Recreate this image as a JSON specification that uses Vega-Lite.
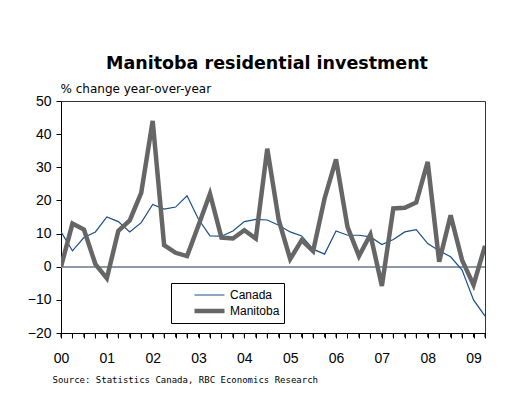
{
  "$schema": "https://vega.github.io/schema/vega-lite/v6.json",
  "autosize": "none",
  "width": 424,
  "height": 232,
  "padding": {"left": 61, "top": 101, "right": 42, "bottom": 76},
  "background": "white",
  "title": {
    "text": "Manitoba residential investment",
    "font": "DejaVu Sans",
    "fontSize": 17.5,
    "fontWeight": "bold",
    "color": "#000",
    "anchor": "middle",
    "dx": -6,
    "offset": 10
  },
  "config": {
    "view": {"stroke": "#333", "strokeWidth": 1},
    "axis": {"labelFont": "Liberation Sans", "titleFont": "Liberation Sans", "domainColor": "#000", "ticks": true, "tickColor": "#000", "tickOpacity": 1, "tickWidth": 1, "labelColor": "#000", "titleColor": "#000", "grid": false},
    "axisX": {"tickCount": 100}
  },
  "data": {
    "values": [
      {"period": 2000.00, "series": "Canada", "value": 10.5},
      {"period": 2000.25, "series": "Canada", "value": 4.8},
      {"period": 2000.50, "series": "Canada", "value": 8.8},
      {"period": 2000.75, "series": "Canada", "value": 10.5},
      {"period": 2001.00, "series": "Canada", "value": 15.0},
      {"period": 2001.25, "series": "Canada", "value": 13.6},
      {"period": 2001.50, "series": "Canada", "value": 10.5},
      {"period": 2001.75, "series": "Canada", "value": 13.3},
      {"period": 2002.00, "series": "Canada", "value": 18.8},
      {"period": 2002.25, "series": "Canada", "value": 17.4},
      {"period": 2002.50, "series": "Canada", "value": 18.0},
      {"period": 2002.75, "series": "Canada", "value": 21.4},
      {"period": 2003.00, "series": "Canada", "value": 14.3},
      {"period": 2003.25, "series": "Canada", "value": 9.3},
      {"period": 2003.50, "series": "Canada", "value": 9.2},
      {"period": 2003.75, "series": "Canada", "value": 10.8},
      {"period": 2004.00, "series": "Canada", "value": 13.6},
      {"period": 2004.25, "series": "Canada", "value": 14.3},
      {"period": 2004.50, "series": "Canada", "value": 14.1},
      {"period": 2004.75, "series": "Canada", "value": 12.5},
      {"period": 2005.00, "series": "Canada", "value": 10.5},
      {"period": 2005.25, "series": "Canada", "value": 9.3},
      {"period": 2005.50, "series": "Canada", "value": 5.3},
      {"period": 2005.75, "series": "Canada", "value": 3.8},
      {"period": 2006.00, "series": "Canada", "value": 10.8},
      {"period": 2006.25, "series": "Canada", "value": 9.5},
      {"period": 2006.50, "series": "Canada", "value": 9.5},
      {"period": 2006.75, "series": "Canada", "value": 9.0},
      {"period": 2007.00, "series": "Canada", "value": 6.7},
      {"period": 2007.25, "series": "Canada", "value": 8.2},
      {"period": 2007.50, "series": "Canada", "value": 10.5},
      {"period": 2007.75, "series": "Canada", "value": 11.2},
      {"period": 2008.00, "series": "Canada", "value": 7.0},
      {"period": 2008.25, "series": "Canada", "value": 4.8},
      {"period": 2008.50, "series": "Canada", "value": 3.0},
      {"period": 2008.75, "series": "Canada", "value": -1.0},
      {"period": 2009.00, "series": "Canada", "value": -10.0},
      {"period": 2009.25, "series": "Canada", "value": -14.9},
      {"period": 2000.00, "series": "Manitoba", "value": 0.0},
      {"period": 2000.25, "series": "Manitoba", "value": 13.0},
      {"period": 2000.50, "series": "Manitoba", "value": 11.2},
      {"period": 2000.75, "series": "Manitoba", "value": 0.8},
      {"period": 2001.00, "series": "Manitoba", "value": -3.5},
      {"period": 2001.25, "series": "Manitoba", "value": 10.8},
      {"period": 2001.50, "series": "Manitoba", "value": 14.0},
      {"period": 2001.75, "series": "Manitoba", "value": 22.3},
      {"period": 2002.00, "series": "Manitoba", "value": 44.0},
      {"period": 2002.25, "series": "Manitoba", "value": 6.5},
      {"period": 2002.50, "series": "Manitoba", "value": 4.2},
      {"period": 2002.75, "series": "Manitoba", "value": 3.2},
      {"period": 2003.00, "series": "Manitoba", "value": 12.5},
      {"period": 2003.25, "series": "Manitoba", "value": 22.0},
      {"period": 2003.50, "series": "Manitoba", "value": 8.8},
      {"period": 2003.75, "series": "Manitoba", "value": 8.5},
      {"period": 2004.00, "series": "Manitoba", "value": 11.0},
      {"period": 2004.25, "series": "Manitoba", "value": 8.5},
      {"period": 2004.50, "series": "Manitoba", "value": 35.6},
      {"period": 2004.75, "series": "Manitoba", "value": 14.1},
      {"period": 2005.00, "series": "Manitoba", "value": 2.3},
      {"period": 2005.25, "series": "Manitoba", "value": 8.0},
      {"period": 2005.50, "series": "Manitoba", "value": 4.7},
      {"period": 2005.75, "series": "Manitoba", "value": 20.6},
      {"period": 2006.00, "series": "Manitoba", "value": 32.4},
      {"period": 2006.25, "series": "Manitoba", "value": 12.0},
      {"period": 2006.50, "series": "Manitoba", "value": 3.2},
      {"period": 2006.75, "series": "Manitoba", "value": 9.7},
      {"period": 2007.00, "series": "Manitoba", "value": -5.8},
      {"period": 2007.25, "series": "Manitoba", "value": 17.6},
      {"period": 2007.50, "series": "Manitoba", "value": 17.8},
      {"period": 2007.75, "series": "Manitoba", "value": 19.4},
      {"period": 2008.00, "series": "Manitoba", "value": 31.6},
      {"period": 2008.25, "series": "Manitoba", "value": 1.5},
      {"period": 2008.50, "series": "Manitoba", "value": 15.5},
      {"period": 2008.75, "series": "Manitoba", "value": 2.0},
      {"period": 2009.00, "series": "Manitoba", "value": -5.5},
      {"period": 2009.25, "series": "Manitoba", "value": 6.3}
    ]
  },
  "encoding": {
    "x": {
      "field": "period",
      "type": "quantitative",
      "scale": {"domain": [2000, 2009.25], "nice": false, "zero": false},
      "axis": {
        "values": [2000, 2000.25, 2000.5, 2000.75, 2001, 2001.25, 2001.5, 2001.75, 2002, 2002.25, 2002.5, 2002.75, 2003, 2003.25, 2003.5, 2003.75, 2004, 2004.25, 2004.5, 2004.75, 2005, 2005.25, 2005.5, 2005.75, 2006, 2006.25, 2006.5, 2006.75, 2007, 2007.25, 2007.5, 2007.75, 2008, 2008.25, 2008.5, 2008.75, 2009, 2009.25],
        "tickCount": 100,
        "ticks": true,
        "labelExpr": "datum.value % 1 == 0 ? substring(toString(datum.value), 2, 4) : ''",
        "labelOverlap": false,
        "labelFontSize": 14,
        "labelPadding": 13,
        "tickSize": 5,
        "labelFlush": false,
        "title": "Source: Statistics Canada, RBC Economics Research",
        "titleFont": "DejaVu Sans Mono",
        "titleFontSize": 9,
        "titleFontWeight": "normal",
        "titleAnchor": "start",
        "titleAlign": "left",
        "titleX": -9,
        "titleY": 46,
        "titleBaseline": "middle"
      }
    },
    "y": {
      "field": "value",
      "type": "quantitative",
      "scale": {"domain": [-20, 50], "nice": false, "zero": false},
      "axis": {
        "values": [-20, -10, 0, 10, 20, 30, 40, 50],
        "ticks": true,
        "labelFontSize": 14,
        "labelPadding": 5,
        "tickSize": 5,
        "title": "% change year-over-year",
        "titleFont": "DejaVu Sans",
        "titleFontSize": 12,
        "titleFontWeight": "normal",
        "titleAngle": 0,
        "titleAlign": "left",
        "titleBaseline": "middle",
        "titleX": -1,
        "titleY": -13
      }
    }
  },
  "layer": [
    {
      "mark": {"type": "rule", "color": "#8c9aa8", "strokeWidth": 1.5},
      "encoding": {"y": {"datum": 0}, "x": null}
    },
    {
      "transform": [{"filter": "datum.series === 'Canada'"}],
      "mark": {"type": "rule", "color": "#000", "strokeWidth": 1, "clip": false},
      "encoding": {
        "x": {"field": "period", "type": "quantitative"},
        "y": {"datum": -20},
        "y2": {"datum": -21.3}
      }
    },
    {
      "mark": {"type": "line", "clip": true},
      "encoding": {
        "color": {
          "field": "series",
          "type": "nominal",
          "scale": {"domain": ["Canada", "Manitoba"], "range": ["#1a4f8a", "#666666"]},
          "legend": {
            "title": " ",
            "titleOrient": "left",
            "titlePadding": 17,
            "titleFontSize": 11,
            "orient": "none",
            "legendX": 110,
            "legendY": 182,
            "direction": "vertical",
            "symbolType": "stroke",
            "symbolSize": 900,
            "clipHeight": 16,
            "labelFont": "Liberation Sans",
            "labelFontSize": 12,
            "labelColor": "#000",
            "strokeColor": "#000",
            "fillColor": "white",
            "padding": 4,
            "rowPadding": 0,
            "labelOffset": 3,
            "labelLimit": 200
          }
        },
        "strokeWidth": {
          "field": "series",
          "type": "nominal",
          "scale": {"domain": ["Canada", "Manitoba"], "range": [1.2, 4.5]},
          "legend": {
            "title": " ",
            "titleOrient": "left",
            "titlePadding": 17,
            "titleFontSize": 11,
            "orient": "none",
            "legendX": 110,
            "legendY": 182,
            "direction": "vertical",
            "symbolType": "stroke",
            "symbolSize": 900,
            "clipHeight": 16,
            "labelFont": "Liberation Sans",
            "labelFontSize": 12,
            "labelColor": "#000",
            "strokeColor": "#000",
            "fillColor": "white",
            "padding": 4,
            "rowPadding": 0,
            "labelOffset": 3,
            "labelLimit": 200
          }
        }
      }
    }
  ]
}
